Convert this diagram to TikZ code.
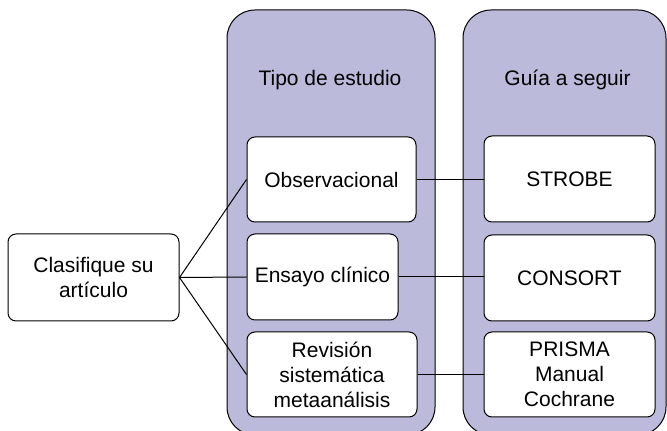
\documentclass[tikz,border=0pt]{standalone}
\usepackage{fontspec}
\setmainfont{Liberation Sans}
\definecolor{lav}{RGB}{188,186,218}
\begin{document}
\begin{tikzpicture}[x=1pt,y=1pt,
  every node/.style={font=\fontsize{21}{25}\selectfont, align=center},
  panel/.style={draw=black, line width=1pt, fill=lav, rounded corners=28pt, minimum width=#1, minimum height=425pt, inner sep=0pt},
  stepbox/.style={draw=black, line width=1pt, fill=white, rounded corners=8pt, inner sep=0pt},
  link/.style={draw=black, line width=1pt}]
\useasboundingbox (0,0) rectangle (667,431);
% containers
\node[panel=208pt] (tipo) at (331,208.5) {};
\node[panel=203pt] (guia) at (564.5,208.5) {};
\node (tipot) at (330,351) {Tipo de estudio};
\node (guiat) at (567.5,351) {Guía a seguir};
% boxes
\node[stepbox, minimum width=171pt, minimum height=87pt] (clas) at (93.5,153.5) {Clasifique su\\artículo};
\node[stepbox, minimum width=169pt, minimum height=85pt] (obs) at (331.5,251.5) {Observacional};
\node[stepbox, minimum width=151pt, minimum height=86pt] (ens) at (322.5,154) {Ensayo clínico};
\node[stepbox, minimum width=170pt, minimum height=85pt] (rev) at (332,56.5) {Revisión\\sistemática\\metaanálisis};
\node[stepbox, minimum width=171pt, minimum height=86pt] (strobe) at (569.5,252) {STROBE};
\node[stepbox, minimum width=171pt, minimum height=86pt] (consort) at (569.5,153) {CONSORT};
\node[stepbox, minimum width=171pt, minimum height=85pt] (prisma) at (569.5,56.5) {PRISMA\\Manual\\Cochrane};
% connectors
\draw[link] (clas.east) -- (obs.west);
\draw[link] (clas.east) -- (ens.west);
\draw[link] (clas.east) -- (rev.west);
\draw[link] (obs.east) -- (strobe.west |- obs.east);
\draw[link] (ens.east) -- (consort.west |- ens.east);
\draw[link] (rev.east) -- (prisma.west |- rev.east);
\end{tikzpicture}
\end{document}
